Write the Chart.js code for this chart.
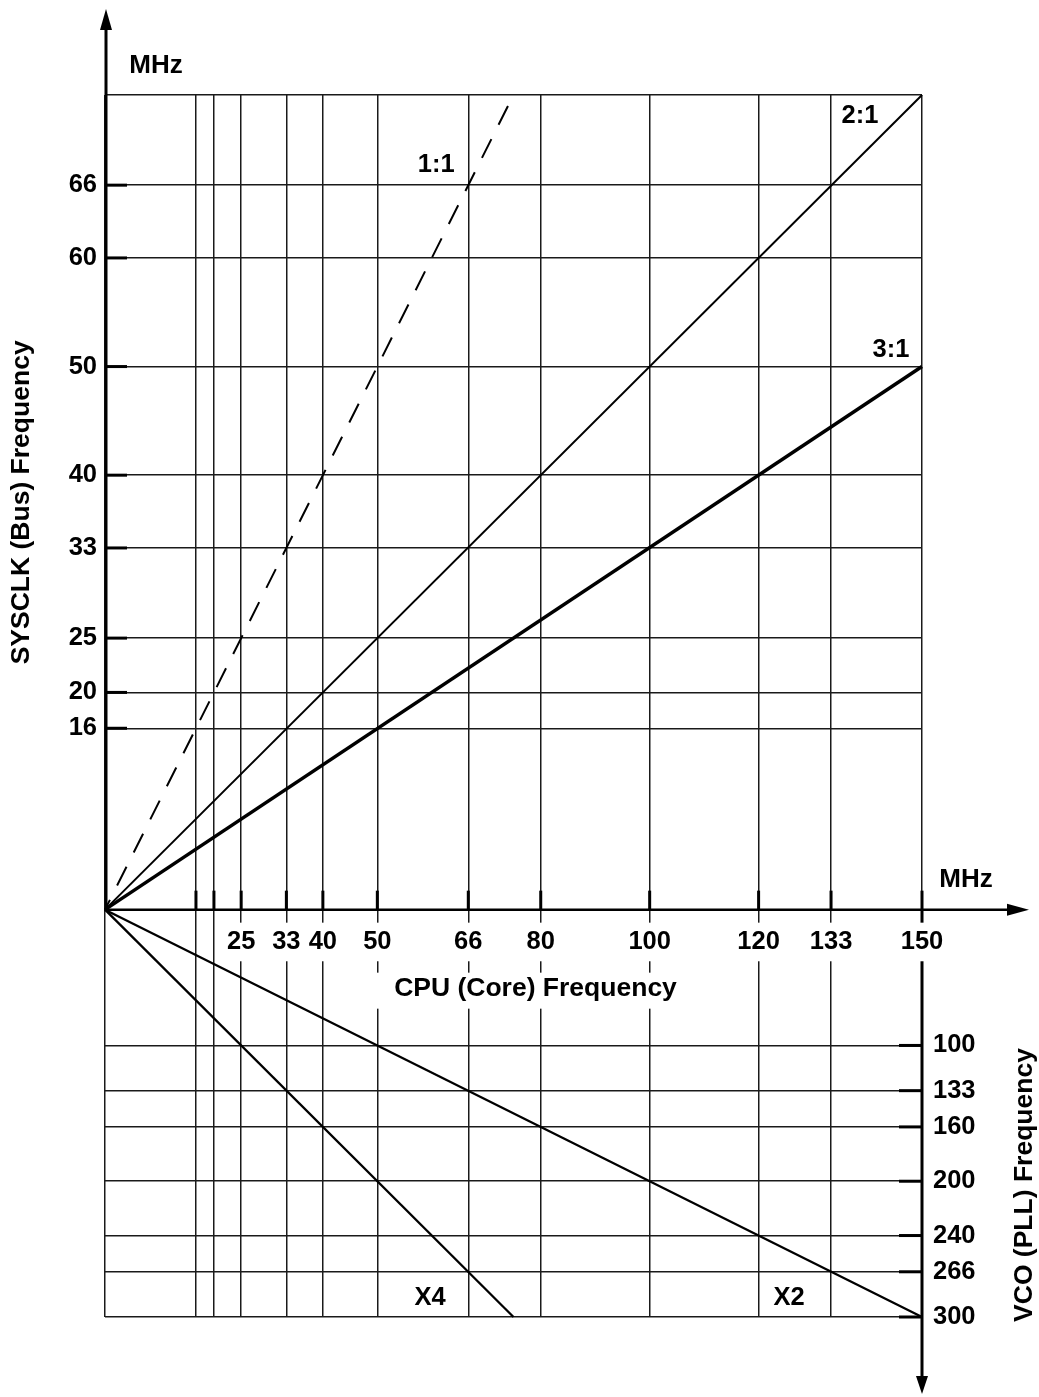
<!DOCTYPE html>
<html>
<head>
<meta charset="utf-8">
<title>CPU / SYSCLK / VCO frequency</title>
<script src="https://cdn.jsdelivr.net/npm/chart.js@4.4.1/dist/chart.umd.min.js"></script>
<style>
  html, body { margin: 0; padding: 0; background: #fff; }
  #wrap { width: 1039px; height: 1397px; position: relative; }
</style>
</head>
<body>
<div id="wrap"><canvas id="freqChart"></canvas></div>
<script>
// tick values on each axis (MHz) and the text printed next to them
const cpuTicks = [0, 16.7, 20, 25, 33.3, 40, 50, 66.7, 80, 100, 120, 133.3, 150];
const cpuLabels = ['', '', '', '25', '33', '40', '50', '66', '80', '100', '120', '133', '150'];
const busTicks = [16.7, 20, 25, 33.3, 40, 50, 60, 66.7, 75];
const busLabels = ['16', '20', '25', '33', '40', '50', '60', '66', ''];
const vcoTicks = [100, 133.3, 160, 200, 240, 266.7, 300];
const vcoLabels = ['100', '133', '160', '200', '240', '266', '300'];

// CPU : SYSCLK ratio lines (end points, MHz)
const ratioNames = ['1:1', '2:1', '3:1'];
const ratioCpu = [[0, 75], [0, 150], [0, 150]];
const ratioBus = [[0, 75], [0, 75], [0, 50]];

// VCO multiplier lines (end points, MHz)
const multNames = ['X4', 'X2'];
const multCpu = [[0, 75], [0, 150]];
const multVco = [[0, 300], [0, 300]];

const FONT = "'Liberation Sans', Arial, Helvetica, sans-serif";
const tickFont = { family: FONT, size: 25.5, weight: 'bold' };
const gridColor = '#1a1a1a';

function pts(xs, ys) {
    return xs.map((v, i) => ({ x: v, y: ys[i] }));
}

// where the line names sit, in data units of the axis they belong to
const lineNotes = [
    { text: '1:1', x: 60.8, v: 68.6, axis: 'y' },
    { text: '2:1', x: 138.6, v: 73.1, axis: 'y' },
    { text: '3:1', x: 144.3, v: 51.5, axis: 'y' },
    { text: 'X4', x: 59.7, v: 286, axis: 'y2' },
    { text: 'X2', x: 125.6, v: 286, axis: 'y2' }
];

function seg(ctx, x1, y1, x2, y2) {
    ctx.beginPath();
    ctx.moveTo(x1, y1);
    ctx.lineTo(x2, y2);
    ctx.stroke();
}

function tri(ctx, ax, ay, bx, by, cx, cy) {
    ctx.beginPath();
    ctx.moveTo(ax, ay);
    ctx.lineTo(bx, by);
    ctx.lineTo(cx, cy);
    ctx.closePath();
    ctx.fill();
}

// axis lines, arrows and tick marks
const axisPlugin = {
    id: 'axisDecor',
    afterDatasetsDraw(chart) {
        const { ctx, scales } = chart;
        const x = scales.x, y = scales.y, y2 = scales.y2;
        const x0 = x.getPixelForValue(0);
        const x1 = x.getPixelForValue(150);
        const yO = y.getPixelForValue(0);
        ctx.save();
        ctx.strokeStyle = '#000';
        ctx.fillStyle = '#000';
        ctx.lineCap = 'butt';

        // SYSCLK axis, going up
        ctx.lineWidth = 3;
        seg(ctx, x0 + 1, yO + 1, x0 + 1, 26);
        tri(ctx, x0 + 1, 9, x0 - 5, 30, x0 + 7, 30);

        // CPU axis, going right
        ctx.lineWidth = 2.5;
        seg(ctx, x0, yO, 1012, yO);
        tri(ctx, 1029, yO, 1007, yO - 6, 1007, yO + 6);

        // VCO axis, going down
        ctx.lineWidth = 3;
        seg(ctx, x1, yO, x1, 1380);
        tri(ctx, x1, 1394, x1 - 6, 1376, x1 + 6, 1376);

        // tick marks
        cpuTicks.forEach(v => {
            if (v === 0) return;
            const px = x.getPixelForValue(v);
            seg(ctx, px, yO - 19, px, yO);
        });
        busTicks.forEach((v, i) => {
            if (!busLabels[i]) return;
            const py = y.getPixelForValue(v);
            seg(ctx, x0 + 1, py, x0 + 22, py);
        });
        vcoTicks.forEach(v => {
            const py = y2.getPixelForValue(v);
            seg(ctx, x1 - 23, py, x1, py);
        });
        ctx.restore();
    },
    afterDraw(chart) {
        const { ctx, scales } = chart;
        const x = scales.x, y = scales.y;
        const x0 = x.getPixelForValue(0);
        const x1 = x.getPixelForValue(150);
        const yO = y.getPixelForValue(0);
        const top = y.getPixelForValue(75);
        ctx.save();
        ctx.fillStyle = '#000';
        ctx.textAlign = 'center';
        ctx.textBaseline = 'middle';

        ctx.font = 'bold 26px ' + FONT;
        ctx.fillText('MHz', x0 + 51, top - 29);
        ctx.fillText('MHz', x1 + 44, yO - 30);

        ctx.font = 'bold 25.5px ' + FONT;
        lineNotes.forEach(n => {
            ctx.fillText(n.text, x.getPixelForValue(n.x), scales[n.axis].getPixelForValue(n.v));
        });

        // axis titles
        ctx.font = 'bold 26.5px ' + FONT;
        const cpuTitle = 'CPU (Core) Frequency';
        const cx = (x0 + x1) / 2 + 22;
        const w = ctx.measureText(cpuTitle).width;
        ctx.fillStyle = '#fff';
        ctx.fillRect(cx - w / 2 - 22, yO + 63, w + 44, 36);
        ctx.fillStyle = '#000';
        ctx.fillText(cpuTitle, cx, yO + 79);

        ctx.save();
        ctx.translate(22, (top + yO) / 2);
        ctx.rotate(-Math.PI / 2);
        ctx.fillText('SYSCLK (Bus) Frequency', 0, 0);
        ctx.restore();

        ctx.save();
        ctx.translate(x1 + 103, 1185);
        ctx.rotate(-Math.PI / 2);
        ctx.fillText('VCO (PLL) Frequency', 0, 0);
        ctx.restore();
        ctx.restore();
    }
};

const ratioWidth = [2, 2, 3.5];
const ratioDash = [[21, 16], [], []];

const datasets = [];
ratioNames.forEach((name, i) => {
    datasets.push({
        label: name,
        data: pts(ratioCpu[i], ratioBus[i]),
        yAxisID: 'y',
        borderColor: '#000',
        borderWidth: ratioWidth[i],
        borderDash: ratioDash[i],
        borderDashOffset: 10,
        pointRadius: 0,
        tension: 0,
        fill: false,
        clip: false
    });
});
multNames.forEach((name, i) => {
    datasets.push({
        label: name,
        data: pts(multCpu[i], multVco[i]),
        yAxisID: 'y2',
        borderColor: '#000',
        borderWidth: 2.3,
        pointRadius: 0,
        tension: 0,
        fill: false,
        clip: false
    });
});

const ctx = document.getElementById('freqChart').getContext('2d');
new Chart(ctx, {
    type: 'line',
    data: { datasets: datasets },
    plugins: [axisPlugin],
    options: {
        responsive: true,
        maintainAspectRatio: false,
        animation: false,
        events: [],
        // the x axis floats at SYSCLK = 0, so the bottom gap is set here
        layout: { padding: { top: 95, left: 0, right: 0, bottom: 80 } },
        plugins: {
            legend: { display: false },
            tooltip: { enabled: false },
            title: { display: false }
        },
        scales: {
            x: {
                type: 'linear',
                min: 0,
                max: 150,
                position: { y: 0 },
                afterBuildTicks: s => { s.ticks = cpuTicks.map(v => ({ value: v })); },
                grid: { color: gridColor, lineWidth: 1.5, drawTicks: false },
                border: { display: false },
                ticks: {
                    autoSkip: false,
                    maxRotation: 0,
                    minRotation: 0,
                    padding: 17,
                    color: '#000',
                    font: tickFont,
                    z: 1,
                    callback: (v, i) => cpuLabels[i],
                    showLabelBackdrop: c => cpuLabels[c.index] !== '',
                    backdropColor: '#fff',
                    backdropPadding: 4
                }
            },
            y: {
                type: 'linear',
                position: 'left',
                min: -37.5,
                max: 75,
                afterBuildTicks: s => { s.ticks = busTicks.map(v => ({ value: v })); },
                afterFit: s => { s.width = 105; },
                grid: { color: gridColor, lineWidth: 1.5, drawTicks: false },
                border: { display: false },
                ticks: {
                    autoSkip: false,
                    padding: 8,
                    color: '#000',
                    font: tickFont,
                    callback: (v, i) => busLabels[i]
                }
            },
            y2: {
                type: 'linear',
                position: 'right',
                min: -600,
                max: 300,
                reverse: true,
                afterBuildTicks: s => { s.ticks = vcoTicks.map(v => ({ value: v })); },
                afterFit: s => { s.width = 117; },
                grid: { color: gridColor, lineWidth: 1.5, drawTicks: false },
                border: { display: false },
                ticks: {
                    autoSkip: false,
                    padding: 11,
                    color: '#000',
                    font: tickFont,
                    callback: (v, i) => vcoLabels[i]
                }
            }
        }
    }
});
</script>
</body>
</html>
